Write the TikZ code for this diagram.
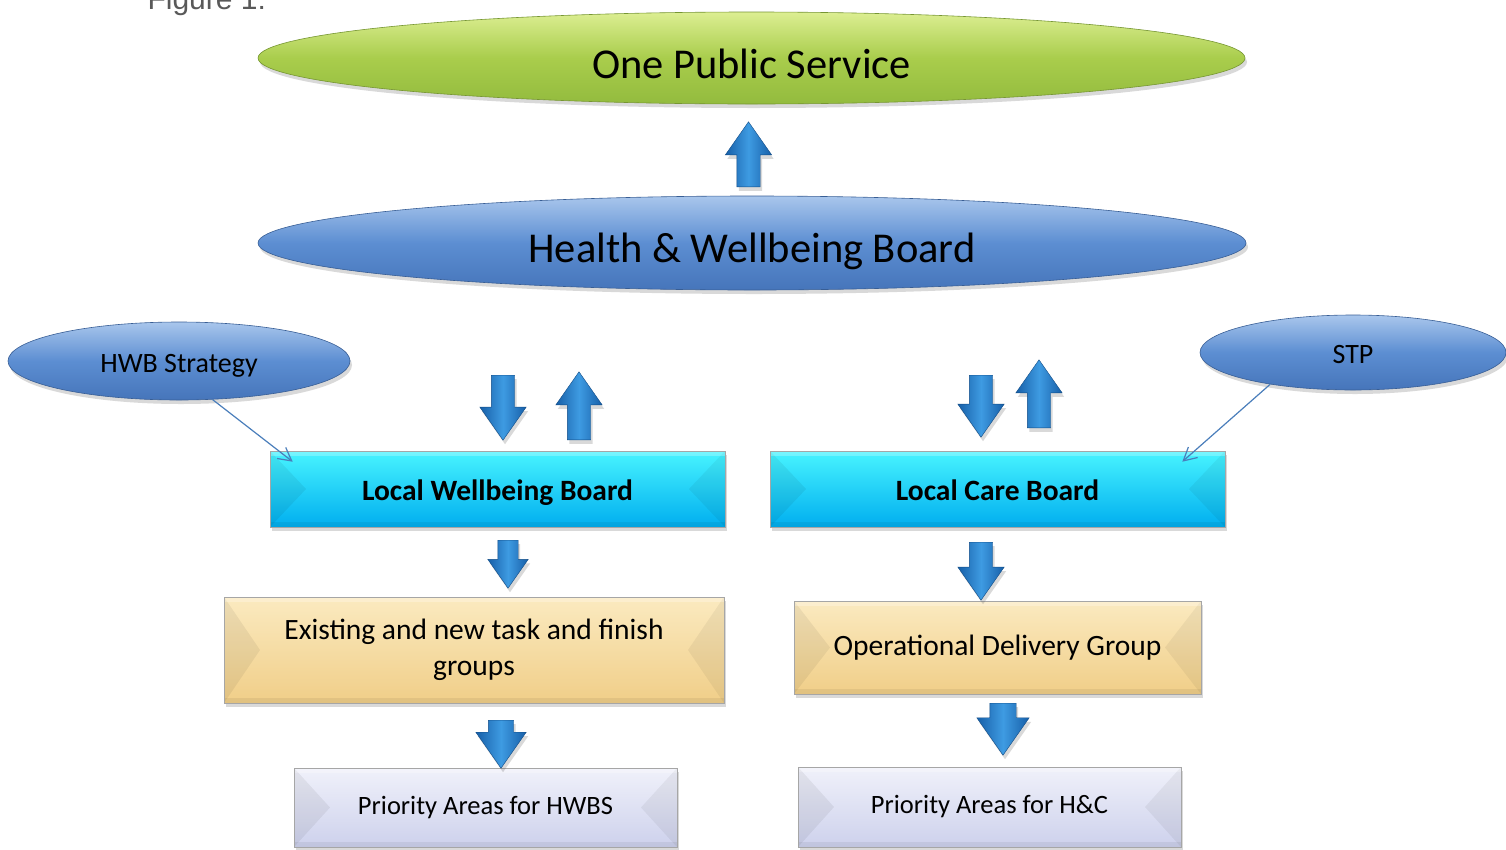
\documentclass[tikz,border=0pt]{standalone}
\usepackage{fontspec}
\setmainfont{Carlito}
\newfontfamily\figfont{Liberation Sans}
\usetikzlibrary{shapes.geometric,shapes.arrows,shadows,arrows.meta}

\definecolor{FigGrey}{HTML}{595959}
\definecolor{GreenTop}{HTML}{DCEE92}
\definecolor{GreenMid}{HTML}{A9CD4C}
\definecolor{GreenLow}{HTML}{93BB3E}
\definecolor{BlueTop}{HTML}{A9C6EC}
\definecolor{BlueMid}{HTML}{5C8ED2}
\definecolor{BlueLow}{HTML}{4675BA}
\definecolor{CyanTop}{HTML}{48F4FF}
\definecolor{CyanLow}{HTML}{00AEEF}
\definecolor{TanTop}{HTML}{FBEAC0}
\definecolor{TanLow}{HTML}{F0CE88}
\definecolor{LilacTop}{HTML}{F0F1FA}
\definecolor{LilacLow}{HTML}{CDD1EC}
\definecolor{ArrowDark}{HTML}{175FA8}
\definecolor{ArrowLight}{HTML}{3E9BE2}
\definecolor{LinkBlue}{HTML}{4A7EBB}

\tikzset{
	softshadow/.style={drop shadow={shadow xshift=2pt,shadow yshift=-4pt,opacity=0.25,fill=black!60}},
	oval/.style={ellipse,inner sep=0pt,softshadow,draw=BlueLow!80!black,line width=0.6pt,
		top color=BlueTop,bottom color=BlueLow,middle color=BlueMid},
	greenoval/.style={oval,draw=GreenLow!80!black,top color=GreenTop,bottom color=GreenLow,middle color=GreenMid},
	bevel/.style={path picture={
		\fill[black,opacity=0.06] (path picture bounding box.north west) -- ([xshift=36pt]path picture bounding box.west) -- (path picture bounding box.south west) -- cycle;
		\fill[black,opacity=0.05] (path picture bounding box.north east) -- ([xshift=-36pt]path picture bounding box.east) -- (path picture bounding box.south east) -- cycle;
		\fill[white,opacity=0.25] (path picture bounding box.north west) rectangle ([yshift=-5pt]path picture bounding box.north east);
		\fill[black,opacity=0.06] (path picture bounding box.south west) rectangle ([yshift=5pt]path picture bounding box.south east);
	}},
	boardbox/.style={rectangle,inner sep=0pt,softshadow,bevel,draw=black!35,line width=0.6pt,
		top color=CyanTop,bottom color=CyanLow,minimum width=455pt,minimum height=76pt,
		font=\bfseries\fontsize{29.5}{34}\selectfont},
	groupbox/.style={boardbox,top color=TanTop,bottom color=TanLow,font=\fontsize{29.5}{36}\selectfont,align=center},
	areabox/.style={boardbox,top color=LilacTop,bottom color=LilacLow,minimum width=383pt,minimum height=80pt,
		font=\fontsize{26.5}{30}\selectfont},
	blockarrow/.style={single arrow,inner sep=11.5pt,single arrow head extend=11.5pt,single arrow tip angle=70,
		left color=ArrowDark,right color=ArrowDark,middle color=ArrowLight,draw=ArrowDark!80!black,line width=0.4pt,
		softshadow,anchor=tail},
	uparrow/.style={blockarrow,shape border rotate=90},
	downarrow/.style={blockarrow,shape border rotate=270},
	link/.style={draw=LinkBlue,line width=1.2pt,-{Straight Barb[length=13pt,width=14pt,line width=1.2pt]}}
}

\begin{document}
\begin{tikzpicture}[x=1pt,y=-1pt]
	\useasboundingbox (0,0) rectangle (1506,849);

	\node (figlabel) [anchor=base west,text=FigGrey,font=\figfont\fontsize{30}{30}\selectfont] at (144,9) {Figure 1:};

	% top of the structure
	\node (ops) [greenoval,minimum width=987pt,minimum height=92pt,font=\fontsize{42.5}{46}\selectfont,
		text height=40pt,text depth=0pt] at (751.5,58) {One Public Service};
	\node (hwb) [oval,minimum width=988pt,minimum height=94pt,font=\fontsize{42.5}{46}\selectfont,
		text height=38pt,text depth=0pt] at (752,243) {Health \& Wellbeing Board};
	\node (upTop) [uparrow,minimum height=65pt] at (748.5,187) {};

	% side inputs
	\node (hwbs) [oval,minimum width=342pt,minimum height=78pt,font=\fontsize{28}{32}\selectfont,
		text height=22pt,text depth=0pt] at (179,361) {HWB Strategy};
	\node (stp) [oval,minimum width=306pt,minimum height=75pt,font=\fontsize{28}{32}\selectfont,
		text height=21pt,text depth=0pt] at (1353,352.5) {STP};

	% local boards
	\node (lwb) [boardbox,text height=22pt,text depth=0pt] at (497.5,489) {Local Wellbeing Board};
	\node (lcb) [boardbox,text height=22pt,text depth=0pt] at (997.5,489) {Local Care Board};

	\node (lwbDown) [downarrow,minimum height=65pt] at (503,375) {};
	\node (lwbUp) [uparrow,minimum height=68pt] at (579,440) {};
	\node (lcbDown) [downarrow,minimum height=62pt] at (981,375) {};
	\node (lcbUp) [uparrow,minimum height=68pt] at (1039,428) {};

	\draw [link] (hwbs.-49) -- ([xshift=23pt,yshift=-11pt]lwb.north west);
	\draw [link] (stp.-159) -- ([xshift=-43pt,yshift=-11pt]lcb.north east);

	% groups
	\node (tfg) [groupbox,minimum width=500pt,minimum height=106pt] at (474,650) {Existing and new task and finish\\groups};
	\node (odg) [groupbox,minimum width=407pt,minimum height=93pt] at (997.5,647.5) {Operational Delivery Group};
	\node (tfgDown) [downarrow,minimum height=48pt,inner sep=10pt,single arrow head extend=10pt] at (508,540) {};
	\node (odgDown) [downarrow,minimum height=58pt] at (981,542) {};

	% priority areas
	\node (paHWBS) [areabox,minimum height=79pt] at (485.5,807.5) {Priority Areas for HWBS};
	\node (paHC) [areabox] at (989.5,807) {Priority Areas for H\&C};
	\node (paHWBSDown) [downarrow,minimum height=48pt,inner sep=12.5pt,single arrow head extend=12.5pt] at (501,720) {};
	\node (paHCDown) [downarrow,minimum height=52pt,inner sep=13pt,single arrow head extend=13pt] at (1003,703) {};
\end{tikzpicture}
\end{document}
